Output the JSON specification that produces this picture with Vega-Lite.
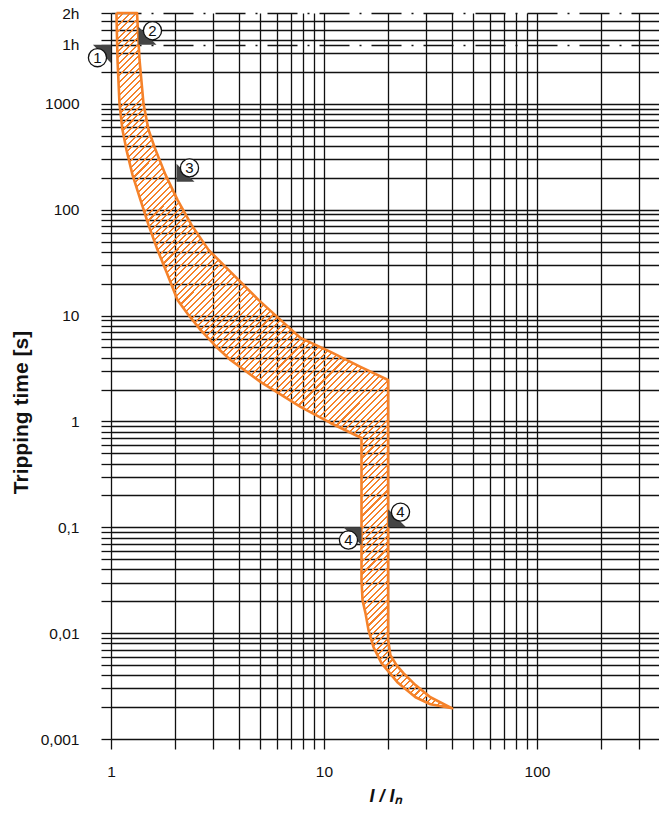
{
  "$schema": "https://vega.github.io/schema/vega-lite/v6.json",
  "width": 548,
  "height": 726,
  "autosize": {"type": "none"},
  "padding": {"left": 111, "top": 13, "right": 0, "bottom": 74},
  "background": "white",
  "config": {
    "view": {"stroke": null},
    "font": "Liberation Sans, Arial, sans-serif"
  },
  "datasets": {
    "band": [
      {"i": 1, "x": 1.061, "y": 7200},
      {"i": 2, "x": 1.073, "y": 2606},
      {"i": 3, "x": 1.096, "y": 1000},
      {"i": 4, "x": 1.132, "y": 568},
      {"i": 5, "x": 1.182, "y": 367},
      {"i": 6, "x": 1.262, "y": 213},
      {"i": 7, "x": 1.375, "y": 123.8},
      {"i": 8, "x": 1.50, "y": 71.8},
      {"i": 9, "x": 1.653, "y": 41.7},
      {"i": 10, "x": 1.822, "y": 25.8},
      {"i": 11, "x": 2.052, "y": 14.04},
      {"i": 12, "x": 2.311, "y": 10.13},
      {"i": 13, "x": 2.632, "y": 7.31},
      {"i": 14, "x": 3.094, "y": 5.16},
      {"i": 15, "x": 3.64, "y": 3.80},
      {"i": 16, "x": 5.03, "y": 2.36},
      {"i": 17, "x": 7.76, "y": 1.368},
      {"i": 18, "x": 10.73, "y": 0.966},
      {"i": 19, "x": 15, "y": 0.697},
      {"i": 20, "x": 15, "y": 0.0317},
      {"i": 21, "x": 15.17, "y": 0.0205},
      {"i": 22, "x": 15.66, "y": 0.01545},
      {"i": 23, "x": 16.18, "y": 0.01067},
      {"i": 24, "x": 17.08, "y": 0.00738},
      {"i": 25, "x": 18.62, "y": 0.0052},
      {"i": 26, "x": 22.1, "y": 0.00344},
      {"i": 27, "x": 26.9, "y": 0.00248},
      {"i": 28, "x": 31.6, "y": 0.00213},
      {"i": 29, "x": 40, "y": 0.00195},
      {"i": 30, "x": 31.6, "y": 0.00248},
      {"i": 31, "x": 26.9, "y": 0.00323},
      {"i": 32, "x": 23.6, "y": 0.00419},
      {"i": 33, "x": 21.9, "y": 0.00499},
      {"i": 34, "x": 20.5, "y": 0.0062},
      {"i": 35, "x": 20, "y": 0.0086},
      {"i": 36, "x": 20, "y": 2.46},
      {"i": 37, "x": 14.84, "y": 3.27},
      {"i": 38, "x": 10.73, "y": 4.53},
      {"i": 39, "x": 7.76, "y": 6.14},
      {"i": 40, "x": 6.25, "y": 9.09},
      {"i": 41, "x": 4.925, "y": 14.04},
      {"i": 42, "x": 3.64, "y": 25.8},
      {"i": 43, "x": 2.869, "y": 41.7},
      {"i": 44, "x": 2.387, "y": 71.8},
      {"i": 45, "x": 2.052, "y": 123.8},
      {"i": 46, "x": 1.803, "y": 213},
      {"i": 47, "x": 1.618, "y": 367},
      {"i": 48, "x": 1.50, "y": 568},
      {"i": 49, "x": 1.421, "y": 1000},
      {"i": 50, "x": 1.361, "y": 2606},
      {"i": 51, "x": 1.325, "y": 7200},
      {"i": 52, "x": 1.061, "y": 7200}
    ],
    "tri": [
      {"x": 1, "y": 3600, "s": "ld"},
      {"x": 1.346, "y": 3600, "s": "ru"},
      {"x": 2.03, "y": 183, "s": "ru"},
      {"x": 15, "y": 0.1, "s": "ld"},
      {"x": 20, "y": 0.1, "s": "ru"}
    ],
    "lab": [
      {"x": 0.864, "y": 2724, "t": "1"},
      {"x": 1.566, "y": 4898, "t": "2"},
      {"x": 2.336, "y": 248, "t": "3"},
      {"x": 13.03, "y": 0.0757, "t": "4"},
      {"x": 22.86, "y": 0.139, "t": "4"}
    ]
  },
  "layer": [
    {
      "data": {"name": "band"},
      "mark": {
        "type": "line", "stroke": "#f5822a", "strokeWidth": 2.6, "strokeJoin": "round", "interpolate": "linear",
        "fill": {
          "gradient": "linear", "x1": 0, "y1": 0, "x2": 0.5813, "y2": 1.2024,
          "stops": [
            {"offset":0,"color":"#f5822a"},{"offset":0.002,"color":"#f5822a"},{"offset":0.002,"color":"#fff0"},{"offset":0.00625,"color":"#fff0"},
            {"offset":0.00625,"color":"#f5822a"},{"offset":0.00825,"color":"#f5822a"},{"offset":0.00825,"color":"#fff0"},{"offset":0.0125,"color":"#fff0"},
            {"offset":0.0125,"color":"#f5822a"},{"offset":0.0145,"color":"#f5822a"},{"offset":0.0145,"color":"#fff0"},{"offset":0.01875,"color":"#fff0"},
            {"offset":0.01875,"color":"#f5822a"},{"offset":0.02075,"color":"#f5822a"},{"offset":0.02075,"color":"#fff0"},{"offset":0.025,"color":"#fff0"},
            {"offset":0.025,"color":"#f5822a"},{"offset":0.027,"color":"#f5822a"},{"offset":0.027,"color":"#fff0"},{"offset":0.03125,"color":"#fff0"},
            {"offset":0.03125,"color":"#f5822a"},{"offset":0.03325,"color":"#f5822a"},{"offset":0.03325,"color":"#fff0"},{"offset":0.0375,"color":"#fff0"},
            {"offset":0.0375,"color":"#f5822a"},{"offset":0.0395,"color":"#f5822a"},{"offset":0.0395,"color":"#fff0"},{"offset":0.04375,"color":"#fff0"},
            {"offset":0.04375,"color":"#f5822a"},{"offset":0.04575,"color":"#f5822a"},{"offset":0.04575,"color":"#fff0"},{"offset":0.05,"color":"#fff0"},
            {"offset":0.05,"color":"#f5822a"},{"offset":0.052,"color":"#f5822a"},{"offset":0.052,"color":"#fff0"},{"offset":0.05625,"color":"#fff0"},
            {"offset":0.05625,"color":"#f5822a"},{"offset":0.05825,"color":"#f5822a"},{"offset":0.05825,"color":"#fff0"},{"offset":0.0625,"color":"#fff0"},
            {"offset":0.0625,"color":"#f5822a"},{"offset":0.0645,"color":"#f5822a"},{"offset":0.0645,"color":"#fff0"},{"offset":0.06875,"color":"#fff0"},
            {"offset":0.06875,"color":"#f5822a"},{"offset":0.07075,"color":"#f5822a"},{"offset":0.07075,"color":"#fff0"},{"offset":0.075,"color":"#fff0"},
            {"offset":0.075,"color":"#f5822a"},{"offset":0.077,"color":"#f5822a"},{"offset":0.077,"color":"#fff0"},{"offset":0.08125,"color":"#fff0"},
            {"offset":0.08125,"color":"#f5822a"},{"offset":0.08325,"color":"#f5822a"},{"offset":0.08325,"color":"#fff0"},{"offset":0.0875,"color":"#fff0"},
            {"offset":0.0875,"color":"#f5822a"},{"offset":0.0895,"color":"#f5822a"},{"offset":0.0895,"color":"#fff0"},{"offset":0.09375,"color":"#fff0"},
            {"offset":0.09375,"color":"#f5822a"},{"offset":0.09575,"color":"#f5822a"},{"offset":0.09575,"color":"#fff0"},{"offset":0.1,"color":"#fff0"},
            {"offset":0.1,"color":"#f5822a"},{"offset":0.102,"color":"#f5822a"},{"offset":0.102,"color":"#fff0"},{"offset":0.10625,"color":"#fff0"},
            {"offset":0.10625,"color":"#f5822a"},{"offset":0.10825,"color":"#f5822a"},{"offset":0.10825,"color":"#fff0"},{"offset":0.1125,"color":"#fff0"},
            {"offset":0.1125,"color":"#f5822a"},{"offset":0.1145,"color":"#f5822a"},{"offset":0.1145,"color":"#fff0"},{"offset":0.11875,"color":"#fff0"},
            {"offset":0.11875,"color":"#f5822a"},{"offset":0.12075,"color":"#f5822a"},{"offset":0.12075,"color":"#fff0"},{"offset":0.125,"color":"#fff0"},
            {"offset":0.125,"color":"#f5822a"},{"offset":0.127,"color":"#f5822a"},{"offset":0.127,"color":"#fff0"},{"offset":0.13125,"color":"#fff0"},
            {"offset":0.13125,"color":"#f5822a"},{"offset":0.13325,"color":"#f5822a"},{"offset":0.13325,"color":"#fff0"},{"offset":0.1375,"color":"#fff0"},
            {"offset":0.1375,"color":"#f5822a"},{"offset":0.1395,"color":"#f5822a"},{"offset":0.1395,"color":"#fff0"},{"offset":0.14375,"color":"#fff0"},
            {"offset":0.14375,"color":"#f5822a"},{"offset":0.14575,"color":"#f5822a"},{"offset":0.14575,"color":"#fff0"},{"offset":0.15,"color":"#fff0"},
            {"offset":0.15,"color":"#f5822a"},{"offset":0.152,"color":"#f5822a"},{"offset":0.152,"color":"#fff0"},{"offset":0.15625,"color":"#fff0"},
            {"offset":0.15625,"color":"#f5822a"},{"offset":0.15825,"color":"#f5822a"},{"offset":0.15825,"color":"#fff0"},{"offset":0.1625,"color":"#fff0"},
            {"offset":0.1625,"color":"#f5822a"},{"offset":0.1645,"color":"#f5822a"},{"offset":0.1645,"color":"#fff0"},{"offset":0.16875,"color":"#fff0"},
            {"offset":0.16875,"color":"#f5822a"},{"offset":0.17075,"color":"#f5822a"},{"offset":0.17075,"color":"#fff0"},{"offset":0.175,"color":"#fff0"},
            {"offset":0.175,"color":"#f5822a"},{"offset":0.177,"color":"#f5822a"},{"offset":0.177,"color":"#fff0"},{"offset":0.18125,"color":"#fff0"},
            {"offset":0.18125,"color":"#f5822a"},{"offset":0.18325,"color":"#f5822a"},{"offset":0.18325,"color":"#fff0"},{"offset":0.1875,"color":"#fff0"},
            {"offset":0.1875,"color":"#f5822a"},{"offset":0.1895,"color":"#f5822a"},{"offset":0.1895,"color":"#fff0"},{"offset":0.19375,"color":"#fff0"},
            {"offset":0.19375,"color":"#f5822a"},{"offset":0.19575,"color":"#f5822a"},{"offset":0.19575,"color":"#fff0"},{"offset":0.2,"color":"#fff0"},
            {"offset":0.2,"color":"#f5822a"},{"offset":0.202,"color":"#f5822a"},{"offset":0.202,"color":"#fff0"},{"offset":0.20625,"color":"#fff0"},
            {"offset":0.20625,"color":"#f5822a"},{"offset":0.20825,"color":"#f5822a"},{"offset":0.20825,"color":"#fff0"},{"offset":0.2125,"color":"#fff0"},
            {"offset":0.2125,"color":"#f5822a"},{"offset":0.2145,"color":"#f5822a"},{"offset":0.2145,"color":"#fff0"},{"offset":0.21875,"color":"#fff0"},
            {"offset":0.21875,"color":"#f5822a"},{"offset":0.22075,"color":"#f5822a"},{"offset":0.22075,"color":"#fff0"},{"offset":0.225,"color":"#fff0"},
            {"offset":0.225,"color":"#f5822a"},{"offset":0.227,"color":"#f5822a"},{"offset":0.227,"color":"#fff0"},{"offset":0.23125,"color":"#fff0"},
            {"offset":0.23125,"color":"#f5822a"},{"offset":0.23325,"color":"#f5822a"},{"offset":0.23325,"color":"#fff0"},{"offset":0.2375,"color":"#fff0"},
            {"offset":0.2375,"color":"#f5822a"},{"offset":0.2395,"color":"#f5822a"},{"offset":0.2395,"color":"#fff0"},{"offset":0.24375,"color":"#fff0"},
            {"offset":0.24375,"color":"#f5822a"},{"offset":0.24575,"color":"#f5822a"},{"offset":0.24575,"color":"#fff0"},{"offset":0.25,"color":"#fff0"},
            {"offset":0.25,"color":"#f5822a"},{"offset":0.252,"color":"#f5822a"},{"offset":0.252,"color":"#fff0"},{"offset":0.25625,"color":"#fff0"},
            {"offset":0.25625,"color":"#f5822a"},{"offset":0.25825,"color":"#f5822a"},{"offset":0.25825,"color":"#fff0"},{"offset":0.2625,"color":"#fff0"},
            {"offset":0.2625,"color":"#f5822a"},{"offset":0.2645,"color":"#f5822a"},{"offset":0.2645,"color":"#fff0"},{"offset":0.26875,"color":"#fff0"},
            {"offset":0.26875,"color":"#f5822a"},{"offset":0.27075,"color":"#f5822a"},{"offset":0.27075,"color":"#fff0"},{"offset":0.275,"color":"#fff0"},
            {"offset":0.275,"color":"#f5822a"},{"offset":0.277,"color":"#f5822a"},{"offset":0.277,"color":"#fff0"},{"offset":0.28125,"color":"#fff0"},
            {"offset":0.28125,"color":"#f5822a"},{"offset":0.28325,"color":"#f5822a"},{"offset":0.28325,"color":"#fff0"},{"offset":0.2875,"color":"#fff0"},
            {"offset":0.2875,"color":"#f5822a"},{"offset":0.2895,"color":"#f5822a"},{"offset":0.2895,"color":"#fff0"},{"offset":0.29375,"color":"#fff0"},
            {"offset":0.29375,"color":"#f5822a"},{"offset":0.29575,"color":"#f5822a"},{"offset":0.29575,"color":"#fff0"},{"offset":0.3,"color":"#fff0"},
            {"offset":0.3,"color":"#f5822a"},{"offset":0.302,"color":"#f5822a"},{"offset":0.302,"color":"#fff0"},{"offset":0.30625,"color":"#fff0"},
            {"offset":0.30625,"color":"#f5822a"},{"offset":0.30825,"color":"#f5822a"},{"offset":0.30825,"color":"#fff0"},{"offset":0.3125,"color":"#fff0"},
            {"offset":0.3125,"color":"#f5822a"},{"offset":0.3145,"color":"#f5822a"},{"offset":0.3145,"color":"#fff0"},{"offset":0.31875,"color":"#fff0"},
            {"offset":0.31875,"color":"#f5822a"},{"offset":0.32075,"color":"#f5822a"},{"offset":0.32075,"color":"#fff0"},{"offset":0.325,"color":"#fff0"},
            {"offset":0.325,"color":"#f5822a"},{"offset":0.327,"color":"#f5822a"},{"offset":0.327,"color":"#fff0"},{"offset":0.33125,"color":"#fff0"},
            {"offset":0.33125,"color":"#f5822a"},{"offset":0.33325,"color":"#f5822a"},{"offset":0.33325,"color":"#fff0"},{"offset":0.3375,"color":"#fff0"},
            {"offset":0.3375,"color":"#f5822a"},{"offset":0.3395,"color":"#f5822a"},{"offset":0.3395,"color":"#fff0"},{"offset":0.34375,"color":"#fff0"},
            {"offset":0.34375,"color":"#f5822a"},{"offset":0.34575,"color":"#f5822a"},{"offset":0.34575,"color":"#fff0"},{"offset":0.35,"color":"#fff0"},
            {"offset":0.35,"color":"#f5822a"},{"offset":0.352,"color":"#f5822a"},{"offset":0.352,"color":"#fff0"},{"offset":0.35625,"color":"#fff0"},
            {"offset":0.35625,"color":"#f5822a"},{"offset":0.35825,"color":"#f5822a"},{"offset":0.35825,"color":"#fff0"},{"offset":0.3625,"color":"#fff0"},
            {"offset":0.3625,"color":"#f5822a"},{"offset":0.3645,"color":"#f5822a"},{"offset":0.3645,"color":"#fff0"},{"offset":0.36875,"color":"#fff0"},
            {"offset":0.36875,"color":"#f5822a"},{"offset":0.37075,"color":"#f5822a"},{"offset":0.37075,"color":"#fff0"},{"offset":0.375,"color":"#fff0"},
            {"offset":0.375,"color":"#f5822a"},{"offset":0.377,"color":"#f5822a"},{"offset":0.377,"color":"#fff0"},{"offset":0.38125,"color":"#fff0"},
            {"offset":0.38125,"color":"#f5822a"},{"offset":0.38325,"color":"#f5822a"},{"offset":0.38325,"color":"#fff0"},{"offset":0.3875,"color":"#fff0"},
            {"offset":0.3875,"color":"#f5822a"},{"offset":0.3895,"color":"#f5822a"},{"offset":0.3895,"color":"#fff0"},{"offset":0.39375,"color":"#fff0"},
            {"offset":0.39375,"color":"#f5822a"},{"offset":0.39575,"color":"#f5822a"},{"offset":0.39575,"color":"#fff0"},{"offset":0.4,"color":"#fff0"},
            {"offset":0.4,"color":"#f5822a"},{"offset":0.402,"color":"#f5822a"},{"offset":0.402,"color":"#fff0"},{"offset":0.40625,"color":"#fff0"},
            {"offset":0.40625,"color":"#f5822a"},{"offset":0.40825,"color":"#f5822a"},{"offset":0.40825,"color":"#fff0"},{"offset":0.4125,"color":"#fff0"},
            {"offset":0.4125,"color":"#f5822a"},{"offset":0.4145,"color":"#f5822a"},{"offset":0.4145,"color":"#fff0"},{"offset":0.41875,"color":"#fff0"},
            {"offset":0.41875,"color":"#f5822a"},{"offset":0.42075,"color":"#f5822a"},{"offset":0.42075,"color":"#fff0"},{"offset":0.425,"color":"#fff0"},
            {"offset":0.425,"color":"#f5822a"},{"offset":0.427,"color":"#f5822a"},{"offset":0.427,"color":"#fff0"},{"offset":0.43125,"color":"#fff0"},
            {"offset":0.43125,"color":"#f5822a"},{"offset":0.43325,"color":"#f5822a"},{"offset":0.43325,"color":"#fff0"},{"offset":0.4375,"color":"#fff0"},
            {"offset":0.4375,"color":"#f5822a"},{"offset":0.4395,"color":"#f5822a"},{"offset":0.4395,"color":"#fff0"},{"offset":0.44375,"color":"#fff0"},
            {"offset":0.44375,"color":"#f5822a"},{"offset":0.44575,"color":"#f5822a"},{"offset":0.44575,"color":"#fff0"},{"offset":0.45,"color":"#fff0"},
            {"offset":0.45,"color":"#f5822a"},{"offset":0.452,"color":"#f5822a"},{"offset":0.452,"color":"#fff0"},{"offset":0.45625,"color":"#fff0"},
            {"offset":0.45625,"color":"#f5822a"},{"offset":0.45825,"color":"#f5822a"},{"offset":0.45825,"color":"#fff0"},{"offset":0.4625,"color":"#fff0"},
            {"offset":0.4625,"color":"#f5822a"},{"offset":0.4645,"color":"#f5822a"},{"offset":0.4645,"color":"#fff0"},{"offset":0.46875,"color":"#fff0"},
            {"offset":0.46875,"color":"#f5822a"},{"offset":0.47075,"color":"#f5822a"},{"offset":0.47075,"color":"#fff0"},{"offset":0.475,"color":"#fff0"},
            {"offset":0.475,"color":"#f5822a"},{"offset":0.477,"color":"#f5822a"},{"offset":0.477,"color":"#fff0"},{"offset":0.48125,"color":"#fff0"},
            {"offset":0.48125,"color":"#f5822a"},{"offset":0.48325,"color":"#f5822a"},{"offset":0.48325,"color":"#fff0"},{"offset":0.4875,"color":"#fff0"},
            {"offset":0.4875,"color":"#f5822a"},{"offset":0.4895,"color":"#f5822a"},{"offset":0.4895,"color":"#fff0"},{"offset":0.49375,"color":"#fff0"},
            {"offset":0.49375,"color":"#f5822a"},{"offset":0.49575,"color":"#f5822a"},{"offset":0.49575,"color":"#fff0"},{"offset":0.5,"color":"#fff0"},
            {"offset":0.5,"color":"#f5822a"},{"offset":0.502,"color":"#f5822a"},{"offset":0.502,"color":"#fff0"},{"offset":0.50625,"color":"#fff0"},
            {"offset":0.50625,"color":"#f5822a"},{"offset":0.50825,"color":"#f5822a"},{"offset":0.50825,"color":"#fff0"},{"offset":0.5125,"color":"#fff0"},
            {"offset":0.5125,"color":"#f5822a"},{"offset":0.5145,"color":"#f5822a"},{"offset":0.5145,"color":"#fff0"},{"offset":0.51875,"color":"#fff0"},
            {"offset":0.51875,"color":"#f5822a"},{"offset":0.52075,"color":"#f5822a"},{"offset":0.52075,"color":"#fff0"},{"offset":0.525,"color":"#fff0"},
            {"offset":0.525,"color":"#f5822a"},{"offset":0.527,"color":"#f5822a"},{"offset":0.527,"color":"#fff0"},{"offset":0.53125,"color":"#fff0"},
            {"offset":0.53125,"color":"#f5822a"},{"offset":0.53325,"color":"#f5822a"},{"offset":0.53325,"color":"#fff0"},{"offset":0.5375,"color":"#fff0"},
            {"offset":0.5375,"color":"#f5822a"},{"offset":0.5395,"color":"#f5822a"},{"offset":0.5395,"color":"#fff0"},{"offset":0.54375,"color":"#fff0"},
            {"offset":0.54375,"color":"#f5822a"},{"offset":0.54575,"color":"#f5822a"},{"offset":0.54575,"color":"#fff0"},{"offset":0.55,"color":"#fff0"},
            {"offset":0.55,"color":"#f5822a"},{"offset":0.552,"color":"#f5822a"},{"offset":0.552,"color":"#fff0"},{"offset":0.55625,"color":"#fff0"},
            {"offset":0.55625,"color":"#f5822a"},{"offset":0.55825,"color":"#f5822a"},{"offset":0.55825,"color":"#fff0"},{"offset":0.5625,"color":"#fff0"},
            {"offset":0.5625,"color":"#f5822a"},{"offset":0.5645,"color":"#f5822a"},{"offset":0.5645,"color":"#fff0"},{"offset":0.56875,"color":"#fff0"},
            {"offset":0.56875,"color":"#f5822a"},{"offset":0.57075,"color":"#f5822a"},{"offset":0.57075,"color":"#fff0"},{"offset":0.575,"color":"#fff0"},
            {"offset":0.575,"color":"#f5822a"},{"offset":0.577,"color":"#f5822a"},{"offset":0.577,"color":"#fff0"},{"offset":0.58125,"color":"#fff0"},
            {"offset":0.58125,"color":"#f5822a"},{"offset":0.58325,"color":"#f5822a"},{"offset":0.58325,"color":"#fff0"},{"offset":0.5875,"color":"#fff0"},
            {"offset":0.5875,"color":"#f5822a"},{"offset":0.5895,"color":"#f5822a"},{"offset":0.5895,"color":"#fff0"},{"offset":0.59375,"color":"#fff0"},
            {"offset":0.59375,"color":"#f5822a"},{"offset":0.59575,"color":"#f5822a"},{"offset":0.59575,"color":"#fff0"},{"offset":0.6,"color":"#fff0"},
            {"offset":0.6,"color":"#f5822a"},{"offset":0.602,"color":"#f5822a"},{"offset":0.602,"color":"#fff0"},{"offset":0.60625,"color":"#fff0"},
            {"offset":0.60625,"color":"#f5822a"},{"offset":0.60825,"color":"#f5822a"},{"offset":0.60825,"color":"#fff0"},{"offset":0.6125,"color":"#fff0"},
            {"offset":0.6125,"color":"#f5822a"},{"offset":0.6145,"color":"#f5822a"},{"offset":0.6145,"color":"#fff0"},{"offset":0.61875,"color":"#fff0"},
            {"offset":0.61875,"color":"#f5822a"},{"offset":0.62075,"color":"#f5822a"},{"offset":0.62075,"color":"#fff0"},{"offset":0.625,"color":"#fff0"},
            {"offset":0.625,"color":"#f5822a"},{"offset":0.627,"color":"#f5822a"},{"offset":0.627,"color":"#fff0"},{"offset":0.63125,"color":"#fff0"},
            {"offset":0.63125,"color":"#f5822a"},{"offset":0.63325,"color":"#f5822a"},{"offset":0.63325,"color":"#fff0"},{"offset":0.6375,"color":"#fff0"},
            {"offset":0.6375,"color":"#f5822a"},{"offset":0.6395,"color":"#f5822a"},{"offset":0.6395,"color":"#fff0"},{"offset":0.64375,"color":"#fff0"},
            {"offset":0.64375,"color":"#f5822a"},{"offset":0.64575,"color":"#f5822a"},{"offset":0.64575,"color":"#fff0"},{"offset":0.65,"color":"#fff0"},
            {"offset":0.65,"color":"#f5822a"},{"offset":0.652,"color":"#f5822a"},{"offset":0.652,"color":"#fff0"},{"offset":0.65625,"color":"#fff0"},
            {"offset":0.65625,"color":"#f5822a"},{"offset":0.65825,"color":"#f5822a"},{"offset":0.65825,"color":"#fff0"},{"offset":0.6625,"color":"#fff0"},
            {"offset":0.6625,"color":"#f5822a"},{"offset":0.6645,"color":"#f5822a"},{"offset":0.6645,"color":"#fff0"},{"offset":0.66875,"color":"#fff0"},
            {"offset":0.66875,"color":"#f5822a"},{"offset":0.67075,"color":"#f5822a"},{"offset":0.67075,"color":"#fff0"},{"offset":0.675,"color":"#fff0"},
            {"offset":0.675,"color":"#f5822a"},{"offset":0.677,"color":"#f5822a"},{"offset":0.677,"color":"#fff0"},{"offset":0.68125,"color":"#fff0"},
            {"offset":0.68125,"color":"#f5822a"},{"offset":0.68325,"color":"#f5822a"},{"offset":0.68325,"color":"#fff0"},{"offset":0.6875,"color":"#fff0"},
            {"offset":0.6875,"color":"#f5822a"},{"offset":0.6895,"color":"#f5822a"},{"offset":0.6895,"color":"#fff0"},{"offset":0.69375,"color":"#fff0"},
            {"offset":0.69375,"color":"#f5822a"},{"offset":0.69575,"color":"#f5822a"},{"offset":0.69575,"color":"#fff0"},{"offset":0.7,"color":"#fff0"},
            {"offset":0.7,"color":"#f5822a"},{"offset":0.702,"color":"#f5822a"},{"offset":0.702,"color":"#fff0"},{"offset":0.70625,"color":"#fff0"},
            {"offset":0.70625,"color":"#f5822a"},{"offset":0.70825,"color":"#f5822a"},{"offset":0.70825,"color":"#fff0"},{"offset":0.7125,"color":"#fff0"},
            {"offset":0.7125,"color":"#f5822a"},{"offset":0.7145,"color":"#f5822a"},{"offset":0.7145,"color":"#fff0"},{"offset":0.71875,"color":"#fff0"},
            {"offset":0.71875,"color":"#f5822a"},{"offset":0.72075,"color":"#f5822a"},{"offset":0.72075,"color":"#fff0"},{"offset":0.725,"color":"#fff0"},
            {"offset":0.725,"color":"#f5822a"},{"offset":0.727,"color":"#f5822a"},{"offset":0.727,"color":"#fff0"},{"offset":0.73125,"color":"#fff0"},
            {"offset":0.73125,"color":"#f5822a"},{"offset":0.73325,"color":"#f5822a"},{"offset":0.73325,"color":"#fff0"},{"offset":0.7375,"color":"#fff0"},
            {"offset":0.7375,"color":"#f5822a"},{"offset":0.7395,"color":"#f5822a"},{"offset":0.7395,"color":"#fff0"},{"offset":0.74375,"color":"#fff0"},
            {"offset":0.74375,"color":"#f5822a"},{"offset":0.74575,"color":"#f5822a"},{"offset":0.74575,"color":"#fff0"},{"offset":0.75,"color":"#fff0"},
            {"offset":0.75,"color":"#f5822a"},{"offset":0.752,"color":"#f5822a"},{"offset":0.752,"color":"#fff0"},{"offset":0.75625,"color":"#fff0"},
            {"offset":0.75625,"color":"#f5822a"},{"offset":0.75825,"color":"#f5822a"},{"offset":0.75825,"color":"#fff0"},{"offset":0.7625,"color":"#fff0"},
            {"offset":0.7625,"color":"#f5822a"},{"offset":0.7645,"color":"#f5822a"},{"offset":0.7645,"color":"#fff0"},{"offset":0.76875,"color":"#fff0"},
            {"offset":0.76875,"color":"#f5822a"},{"offset":0.77075,"color":"#f5822a"},{"offset":0.77075,"color":"#fff0"},{"offset":0.775,"color":"#fff0"},
            {"offset":0.775,"color":"#f5822a"},{"offset":0.777,"color":"#f5822a"},{"offset":0.777,"color":"#fff0"},{"offset":0.78125,"color":"#fff0"},
            {"offset":0.78125,"color":"#f5822a"},{"offset":0.78325,"color":"#f5822a"},{"offset":0.78325,"color":"#fff0"},{"offset":0.7875,"color":"#fff0"},
            {"offset":0.7875,"color":"#f5822a"},{"offset":0.7895,"color":"#f5822a"},{"offset":0.7895,"color":"#fff0"},{"offset":0.79375,"color":"#fff0"},
            {"offset":0.79375,"color":"#f5822a"},{"offset":0.79575,"color":"#f5822a"},{"offset":0.79575,"color":"#fff0"},{"offset":0.8,"color":"#fff0"},
            {"offset":0.8,"color":"#f5822a"},{"offset":0.802,"color":"#f5822a"},{"offset":0.802,"color":"#fff0"},{"offset":0.80625,"color":"#fff0"},
            {"offset":0.80625,"color":"#f5822a"},{"offset":0.80825,"color":"#f5822a"},{"offset":0.80825,"color":"#fff0"},{"offset":0.8125,"color":"#fff0"},
            {"offset":0.8125,"color":"#f5822a"},{"offset":0.8145,"color":"#f5822a"},{"offset":0.8145,"color":"#fff0"},{"offset":0.81875,"color":"#fff0"},
            {"offset":0.81875,"color":"#f5822a"},{"offset":0.82075,"color":"#f5822a"},{"offset":0.82075,"color":"#fff0"},{"offset":0.825,"color":"#fff0"},
            {"offset":0.825,"color":"#f5822a"},{"offset":0.827,"color":"#f5822a"},{"offset":0.827,"color":"#fff0"},{"offset":0.83125,"color":"#fff0"},
            {"offset":0.83125,"color":"#f5822a"},{"offset":0.83325,"color":"#f5822a"},{"offset":0.83325,"color":"#fff0"},{"offset":0.8375,"color":"#fff0"},
            {"offset":0.8375,"color":"#f5822a"},{"offset":0.8395,"color":"#f5822a"},{"offset":0.8395,"color":"#fff0"},{"offset":0.84375,"color":"#fff0"},
            {"offset":0.84375,"color":"#f5822a"},{"offset":0.84575,"color":"#f5822a"},{"offset":0.84575,"color":"#fff0"},{"offset":0.85,"color":"#fff0"},
            {"offset":0.85,"color":"#f5822a"},{"offset":0.852,"color":"#f5822a"},{"offset":0.852,"color":"#fff0"},{"offset":0.85625,"color":"#fff0"},
            {"offset":0.85625,"color":"#f5822a"},{"offset":0.85825,"color":"#f5822a"},{"offset":0.85825,"color":"#fff0"},{"offset":0.8625,"color":"#fff0"},
            {"offset":0.8625,"color":"#f5822a"},{"offset":0.8645,"color":"#f5822a"},{"offset":0.8645,"color":"#fff0"},{"offset":0.86875,"color":"#fff0"},
            {"offset":0.86875,"color":"#f5822a"},{"offset":0.87075,"color":"#f5822a"},{"offset":0.87075,"color":"#fff0"},{"offset":0.875,"color":"#fff0"},
            {"offset":0.875,"color":"#f5822a"},{"offset":0.877,"color":"#f5822a"},{"offset":0.877,"color":"#fff0"},{"offset":0.88125,"color":"#fff0"},
            {"offset":0.88125,"color":"#f5822a"},{"offset":0.88325,"color":"#f5822a"},{"offset":0.88325,"color":"#fff0"},{"offset":0.8875,"color":"#fff0"},
            {"offset":0.8875,"color":"#f5822a"},{"offset":0.8895,"color":"#f5822a"},{"offset":0.8895,"color":"#fff0"},{"offset":0.89375,"color":"#fff0"},
            {"offset":0.89375,"color":"#f5822a"},{"offset":0.89575,"color":"#f5822a"},{"offset":0.89575,"color":"#fff0"},{"offset":0.9,"color":"#fff0"},
            {"offset":0.9,"color":"#f5822a"},{"offset":0.902,"color":"#f5822a"},{"offset":0.902,"color":"#fff0"},{"offset":0.90625,"color":"#fff0"},
            {"offset":0.90625,"color":"#f5822a"},{"offset":0.90825,"color":"#f5822a"},{"offset":0.90825,"color":"#fff0"},{"offset":0.9125,"color":"#fff0"},
            {"offset":0.9125,"color":"#f5822a"},{"offset":0.9145,"color":"#f5822a"},{"offset":0.9145,"color":"#fff0"},{"offset":0.91875,"color":"#fff0"},
            {"offset":0.91875,"color":"#f5822a"},{"offset":0.92075,"color":"#f5822a"},{"offset":0.92075,"color":"#fff0"},{"offset":0.925,"color":"#fff0"},
            {"offset":0.925,"color":"#f5822a"},{"offset":0.927,"color":"#f5822a"},{"offset":0.927,"color":"#fff0"},{"offset":0.93125,"color":"#fff0"},
            {"offset":0.93125,"color":"#f5822a"},{"offset":0.93325,"color":"#f5822a"},{"offset":0.93325,"color":"#fff0"},{"offset":0.9375,"color":"#fff0"},
            {"offset":0.9375,"color":"#f5822a"},{"offset":0.9395,"color":"#f5822a"},{"offset":0.9395,"color":"#fff0"},{"offset":0.94375,"color":"#fff0"},
            {"offset":0.94375,"color":"#f5822a"},{"offset":0.94575,"color":"#f5822a"},{"offset":0.94575,"color":"#fff0"},{"offset":0.95,"color":"#fff0"},
            {"offset":0.95,"color":"#f5822a"},{"offset":0.952,"color":"#f5822a"},{"offset":0.952,"color":"#fff0"},{"offset":0.95625,"color":"#fff0"},
            {"offset":0.95625,"color":"#f5822a"},{"offset":0.95825,"color":"#f5822a"},{"offset":0.95825,"color":"#fff0"},{"offset":0.9625,"color":"#fff0"},
            {"offset":0.9625,"color":"#f5822a"},{"offset":0.9645,"color":"#f5822a"},{"offset":0.9645,"color":"#fff0"},{"offset":0.96875,"color":"#fff0"},
            {"offset":0.96875,"color":"#f5822a"},{"offset":0.97075,"color":"#f5822a"},{"offset":0.97075,"color":"#fff0"},{"offset":0.975,"color":"#fff0"},
            {"offset":0.975,"color":"#f5822a"},{"offset":0.977,"color":"#f5822a"},{"offset":0.977,"color":"#fff0"},{"offset":0.98125,"color":"#fff0"},
            {"offset":0.98125,"color":"#f5822a"},{"offset":0.98325,"color":"#f5822a"},{"offset":0.98325,"color":"#fff0"},{"offset":0.9875,"color":"#fff0"},
            {"offset":0.9875,"color":"#f5822a"},{"offset":0.9895,"color":"#f5822a"},{"offset":0.9895,"color":"#fff0"},{"offset":0.99375,"color":"#fff0"},
            {"offset":0.99375,"color":"#f5822a"},{"offset":0.99575,"color":"#f5822a"},{"offset":0.99575,"color":"#fff0"},{"offset":1,"color":"#fff0"}
          ]
        }
      },
      "encoding": {
        "x": {
          "field": "x", "type": "quantitative",
          "scale": {"type": "log", "domain": [1, 374], "nice": false},
          "axis": {
            "values": [1,2,3,4,5,6,7,8,9,10,20,30,40,50,60,70,80,90,100,200,300],
            "labelExpr": "datum.value==1?'1':datum.value==10?'10':datum.value==100?'100':''",
            "grid": true, "gridColor": "#111", "gridWidth": 1.3, "gridOpacity": 1,
            "ticks": true, "tickSize": 10, "tickColor": "#111", "tickWidth": 1.3,
            "domain": false, "labelFlush": false, "labelOverlap": false,
            "labelPadding": 15, "labelFontSize": 15.5, "labelColor": "#111", "labelFont": "Liberation Sans",
            "title": "I / Iₙ", "titleFontSize": 18, "titleFontWeight": "bold", "titleFontStyle": "italic",
            "titleFont": "Liberation Sans", "titleColor": "#111", "titlePadding": 8
          }
        },
        "y": {
          "field": "y", "type": "quantitative",
          "scale": {"type": "log", "domain": [0.001, 7200], "nice": false},
          "axis": {
            "values": [0.001,0.002,0.003,0.004,0.005,0.006,0.007,0.008,0.009,0.01,0.02,0.03,0.04,0.05,0.06,0.07,0.08,0.09,0.1,0.2,0.3,0.4,0.5,0.6,0.7,0.8,0.9,1,2,3,4,5,6,7,8,9,10,20,30,40,50,60,70,80,90,100,200,300,400,500,600,700,800,900,1000,2000,3000,3600,4000,5000,6000,7200],
            "labelExpr": "datum.value==7200?'2h':datum.value==3600?'1h':datum.value==1000?'1000':datum.value==100?'100':datum.value==10?'10':datum.value==1?'1':datum.value==0.1?'0,1':datum.value==0.01?'0,01':datum.value==0.001?'0,001':''",
            "grid": true, "gridColor": "#111", "gridWidth": 1.3, "gridOpacity": 1,
            "gridDash": {"condition": {"test": "datum.value==3600||datum.value==7200", "value": [30, 10, 2, 10]}, "value": []},
            "ticks": true, "tickSize": 10, "tickColor": "#111", "tickWidth": 1.3,
            "domain": false, "labelFlush": false, "labelOverlap": false,
            "labelPadding": 22, "labelFontSize": 15.5, "labelColor": "#111", "labelFont": "Liberation Sans",
            "title": "Tripping time [s]", "titleFontSize": 21, "titleFontWeight": "bold", "titleFont": "Liberation Sans",
            "titleColor": "#111", "titlePadding": 9, "titleY": 399
          }
        },
        "order": {"field": "i", "type": "quantitative"}
      }
    },
    {
      "data": {"name": "tri"},
      "mark": {"type": "point", "filled": true, "color": "#444", "size": 1300, "opacity": 1, "strokeWidth": 0},
      "encoding": {
        "x": {"field": "x", "type": "quantitative", "scale": {"type": "log", "domain": [1, 374], "nice": false}},
        "y": {"field": "y", "type": "quantitative", "scale": {"type": "log", "domain": [0.001, 7200], "nice": false}},
        "shape": {"field": "s", "type": "nominal", "scale": {"domain": ["ld", "ru"], "range": ["M0,0L-1,0L0,1Z", "M0,0L0,-1L1,0Z"]}, "legend": null}
      }
    },
    {
      "data": {"name": "lab"},
      "mark": {"type": "point", "shape": "circle", "size": 330, "filled": true, "fill": "white", "stroke": "#111", "strokeWidth": 1.3, "opacity": 1},
      "encoding": {
        "x": {"field": "x", "type": "quantitative"},
        "y": {"field": "y", "type": "quantitative"}
      }
    },
    {
      "data": {"name": "lab"},
      "mark": {"type": "text", "fontSize": 15, "align": "center", "baseline": "middle", "color": "#111", "font": "Liberation Sans"},
      "encoding": {
        "x": {"field": "x", "type": "quantitative"},
        "y": {"field": "y", "type": "quantitative"},
        "text": {"field": "t"}
      }
    }
  ]
}
